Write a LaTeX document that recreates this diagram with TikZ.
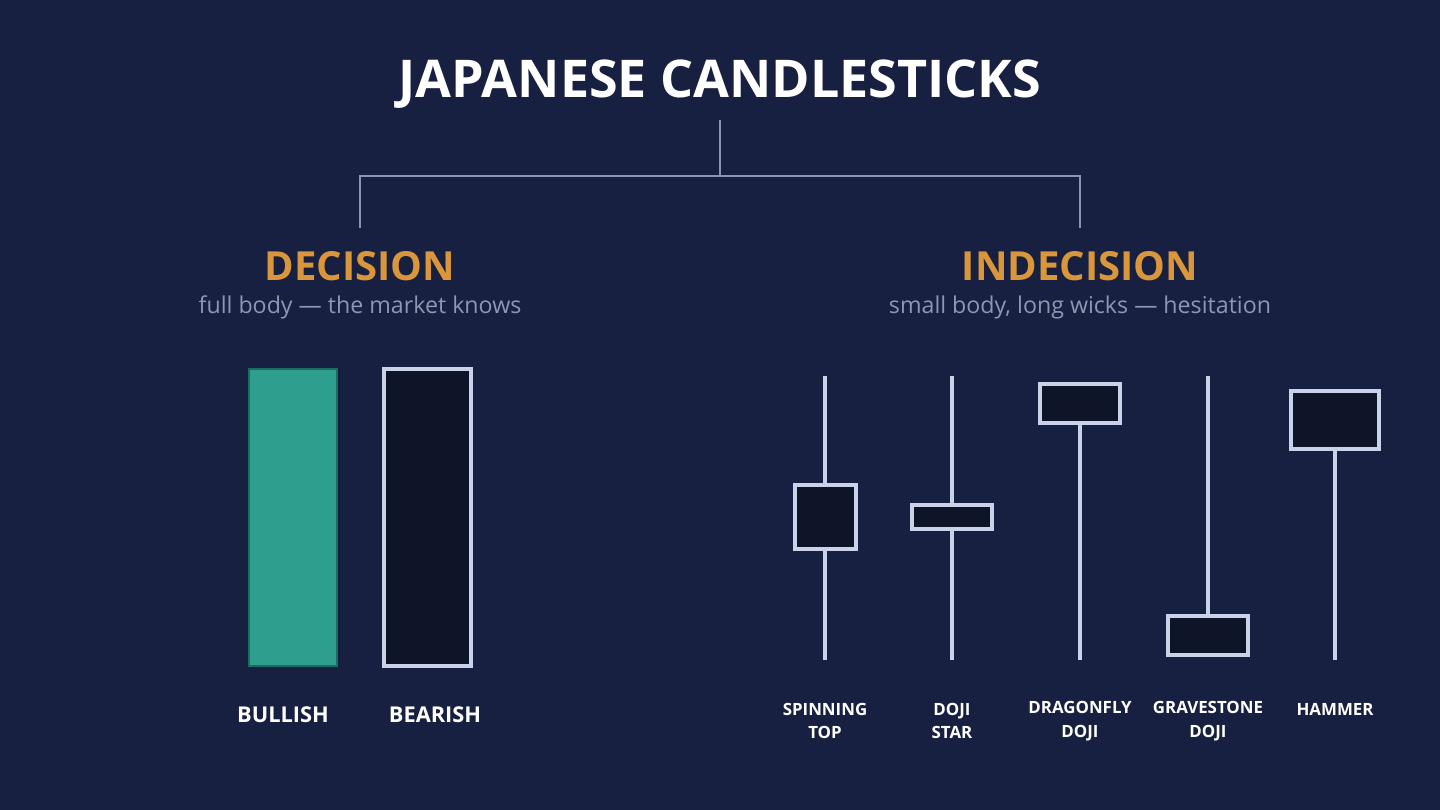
\documentclass[tikz,border=0pt]{standalone}
\usepackage{fontspec}
\setmainfont{Open Sans}
\definecolor{bg}{HTML}{172040}
\definecolor{tree}{HTML}{8A95B0}
\definecolor{gold}{HTML}{D9963A}
\definecolor{sub}{HTML}{8C97B3}
\definecolor{bull}{HTML}{2E9E8F}
\definecolor{bulledge}{HTML}{1E6B60}
\definecolor{dark}{HTML}{0E1528}
\definecolor{edge}{HTML}{C8D3EA}
\tikzset{
  head/.style={text=gold,font=\fontsize{28.5}{32}\selectfont\bfseries},
  note/.style={text=sub,font=\fontsize{16.5}{20}\selectfont},
  lab/.style={text=white,font=\fontsize{15.5}{18}\selectfont\bfseries},
  small/.style={text=white,font=\fontsize{12}{17}\selectfont\bfseries,align=center},
  wick/.style={edge,line width=2.2pt},
  body/.style={draw=edge,fill=dark,line width=2.2pt}
}
\begin{document}
\begin{tikzpicture}[x=0.25mm,y=-0.25mm]
\fill[bg] (0,0) rectangle (1440,810);
\useasboundingbox (0,0) rectangle (1440,810);

% title and tree
\node[text=white,font=\fontsize{37}{42}\selectfont\bfseries] (title) at (720,84) {JAPANESE CANDLESTICKS};
\coordinate (top) at (720,120);
\coordinate (mid) at (720,176);
\coordinate (l) at (360,176);
\coordinate (r) at (1080,176);
\coordinate (ld) at (360,228);
\coordinate (rd) at (1080,228);
\draw[tree,line width=1.5pt] (top) -- (mid);
\draw[tree,line width=1.5pt] (ld) -- (l) -- (r) -- (rd);

\node[head] (dec) at (360,266) {DECISION};
\node[note] (decn) at (360,307) {full body — the market knows};
\node[head] (indec) at (1080,266) {INDECISION};
\node[note] (indecn) at (1080,307) {small body, long wicks — hesitation};

% decision candles
\draw[draw=bulledge,fill=bull,line width=1.8pt] (249,369) rectangle (337,666);
\draw[body] (384,369) rectangle (471,666);
\node[lab] (bullish) at (283,715) {BULLISH};
\node[lab] (bearish) at (435,715) {BEARISH};

% indecision candles
\draw[wick] (825,376) -- (825,660);
\draw[body] (795,485) rectangle (856,549);
\draw[wick] (952,376) -- (952,660);
\draw[body] (912,505) rectangle (992,529);
\draw[wick] (1080,423) -- (1080,660);
\draw[body] (1040,384) rectangle (1120,423);
\draw[wick] (1208,376) -- (1208,616);
\draw[body] (1168,616) rectangle (1248,655);
\draw[wick] (1335,449) -- (1335,660);
\draw[body] (1291,391) rectangle (1379,449);

\node[small] (spin) at (825,721) {SPINNING\\TOP};
\node[small] (doji) at (952,721) {DOJI\\STAR};
\node[small] (dragon) at (1080,721) {DRAGONFLY\\DOJI};
\node[small] (grave) at (1208,721) {GRAVESTONE\\DOJI};
\node[small] (hammer) at (1335,709) {HAMMER};
\end{tikzpicture}
\end{document}
